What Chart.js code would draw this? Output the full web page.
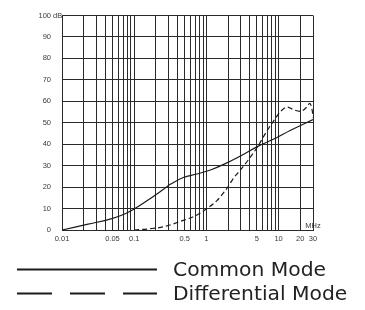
<!DOCTYPE html>
<html>
<head>
<meta charset="utf-8">
<script src="https://cdn.jsdelivr.net/npm/chart.js@4.4.0/dist/chart.umd.min.js"></script>
<style>
  html, body { margin: 0; padding: 0; background: #fff; }
  #wrap { width: 365px; height: 310px; }
</style>
</head>
<body>
<div id="wrap"><canvas id="chart"></canvas></div>
<script>
// Insertion loss, dB vs frequency, MHz
const seriesNames = ['Common Mode', 'Differential Mode'];

const freqCommon = [0.01, 0.023, 0.049, 0.075, 0.1, 0.15, 0.255, 0.32, 0.48, 0.74, 1.14, 1.74, 2.97, 5.16, 8.6, 14.7, 30];
const dbCommon   = [0, 2.7, 5.3, 7.6, 9.8, 13.6, 19, 21.4, 24.5, 26.1, 28, 30.6, 34.5, 39, 42.4, 46.5, 51.5];

const freqDiff = [0.1, 0.167, 0.255, 0.435, 0.742, 1.02, 1.41, 1.95, 2.4, 2.97, 3.87, 5.16, 6.7, 8.6, 10.7, 13.2, 16.3, 20.2, 25, 27, 29.4, 30];
const dbDiff   = [0, 0.6, 1.5, 4, 7, 10, 13.8, 19.7, 24.3, 28, 33, 39, 45.5, 51, 55.3, 57.3, 56, 55.3, 57.6, 59, 55.3, 52.5];

// log grid lines and the ones that carry a label
const xGridValues = [0.01, 0.02, 0.03, 0.04, 0.05, 0.06, 0.07, 0.08, 0.09,
                     0.1, 0.2, 0.3, 0.4, 0.5, 0.6, 0.7, 0.8, 0.9,
                     1, 2, 3, 4, 5, 6, 7, 8, 9,
                     10, 20, 30];
const xTickLabels = ['0.01', '0.05', '0.1', '0.5', '1', '5', '10', '20', '30'];
const yTicks = [0, 10, 20, 30, 40, 50, 60, 70, 80, 90, 100];

const toPoints = (xs, ys) => xs.map((x, i) => ({ x, y: ys[i] }));

const ink = '#1a1a1a';
const gridColor = '#2a2a2a';
const tickFont = { family: '"Liberation Sans", Arial, sans-serif', size: 7.5 };

const extras = {
  id: 'extras',
  afterDraw(chart) {
    const { ctx, chartArea, scales } = chart;
    ctx.save();
    ctx.fillStyle = '#3a3a3a';
    ctx.font = '7.5px "Liberation Sans", Arial, sans-serif';
    ctx.textBaseline = 'middle';
    ctx.textAlign = 'left';
    ctx.fillText('dB', chartArea.left - 9, scales.y.getPixelForValue(100));
    ctx.textAlign = 'center';
    ctx.fillText('MHz', chartArea.right, chartArea.bottom - 4);

    // legend
    ctx.font = '20.3px "DejaVu Sans", sans-serif';
    ctx.fillStyle = '#222';
    ctx.textAlign = 'left';
    const rows = [269.5, 293.5];
    chart.data.datasets.forEach((ds, i) => {
      const y = rows[i];
      ctx.strokeStyle = ink;
      ctx.lineWidth = 2;
      ctx.setLineDash(ds.borderDash.length ? [35, 18] : []);
      ctx.beginPath();
      ctx.moveTo(17, y);
      ctx.lineTo(157, y);
      ctx.stroke();
      ctx.fillText(ds.label, 173, y + 1);
    });
    ctx.restore();
  }
};

new Chart(document.getElementById('chart'), {
  type: 'line',
  data: {
    datasets: [
      { label: seriesNames[0], data: toPoints(freqCommon, dbCommon), borderColor: ink, borderWidth: 1.2, borderDash: [], pointRadius: 0, tension: 0.4 },
      { label: seriesNames[1], data: toPoints(freqDiff, dbDiff), borderColor: ink, borderWidth: 1.2, borderDash: [5, 3], pointRadius: 0, cubicInterpolationMode: 'monotone' }
    ]
  },
  options: {
    responsive: true,
    maintainAspectRatio: false,
    animation: false,
    devicePixelRatio: 1,
    layout: { padding: { top: 10, right: 52, bottom: 59, left: 0 } },
    plugins: { legend: { display: false }, tooltip: { enabled: false } },
    scales: {
      x: {
        type: 'logarithmic',
        min: 0.01,
        max: 30,
        afterBuildTicks: s => { s.ticks = xGridValues.map(v => ({ value: v })); },
        afterFit: s => { s.height = 21; },
        ticks: {
          autoSkip: false, maxRotation: 0, minRotation: 0, padding: 4,
          color: '#3a3a3a', font: tickFont,
          callback: (v, i) => {
            const t = String(xGridValues[i]);
            return xTickLabels.includes(t) ? t : '';
          }
        },
        grid: { color: gridColor, lineWidth: 1, drawTicks: false },
        border: { color: gridColor }
      },
      y: {
        type: 'linear',
        min: yTicks[0],
        max: yTicks[yTicks.length - 1],
        afterBuildTicks: s => { s.ticks = yTicks.map(v => ({ value: v })); },
        afterFit: s => { s.width = 62; },
        ticks: { padding: 11, color: '#3a3a3a', font: tickFont },
        grid: { color: gridColor, lineWidth: 1, drawTicks: false },
        border: { color: gridColor }
      }
    }
  },
  plugins: [extras]
});
</script>
</body>
</html>
